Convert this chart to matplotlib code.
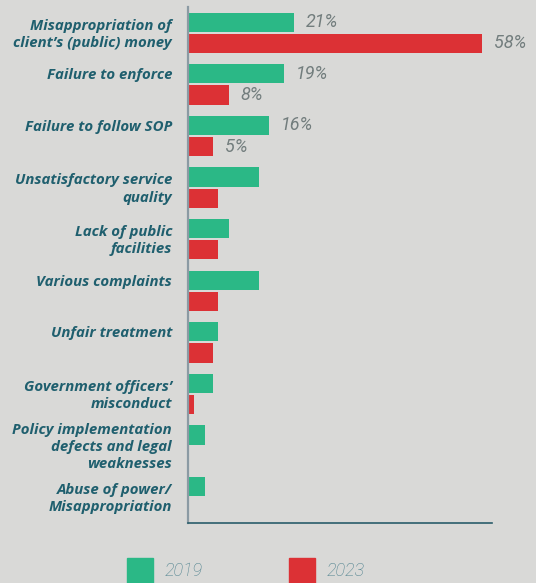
import numpy as np
import matplotlib.pyplot as plt
from matplotlib.patches import Rectangle

# categories, top to bottom
categories = [
    'Misappropriation of\nclient\u2019s (public) money',
    'Failure to enforce',
    'Failure to follow SOP',
    'Unsatisfactory service\nquality',
    'Lack of public\nfacilities',
    'Various complaints',
    'Unfair treatment',
    'Government officers\u2019\nmisconduct',
    'Policy implementation\ndefects and legal\nweaknesses',
    'Abuse of power/\nMisappropriation',
]
share_2019 = [21, 19, 16, 14, 8, 14, 6, 5, 3.3, 3.3]
share_2023 = [58, 8, 5, 6, 6, 6, 5, 1.2, 0, 0]
labels_2019 = ['21%', '19%', '16%', '', '', '', '', '', '', '']
labels_2023 = ['58%', '8%', '5%', '', '', '', '', '', '', '']
years = ['2019', '2023']

bg = '#d9d9d7'
green = '#2bb886'
red = '#dc3135'
teal = '#1f5f6e'
num_grey = '#727d7d'

fig = plt.figure(figsize=(5.36, 5.83), dpi=100, facecolor=bg)
ax = fig.add_axes([188 / 536, 1 - 523 / 583, 304 / 536, 516 / 583])
ax.set_facecolor(bg)

y = np.arange(len(categories))
h = 0.37
off = 0.205
ax.barh(y - off, share_2019, height=h, color=green)
ax.barh(y + off, share_2023, height=h, color=red)

ax.set_xlim(0, 60)
ax.set_ylim(len(categories) - 0.5, -0.5)
ax.set_xticks([])
ax.set_yticks([])
for s in ['top', 'right']:
    ax.spines[s].set_visible(False)
ax.spines['left'].set_color('#8b9aa3')
ax.spines['left'].set_linewidth(1.6)
ax.spines['bottom'].set_color('#2a5d6a')
ax.spines['bottom'].set_linewidth(1.2)

lab_font = dict(family='Open Sans', weight='bold', style='italic', size=10.8, color=teal)
num_font = dict(family='Roboto', weight='normal', style='italic', size=13, color=num_grey)

# category labels: one-liners sit next to the 2019 bar, others centred on the pair
for i, name in enumerate(categories):
    yy = i if '\n' in name else i - off
    ax.annotate(name, xy=(0, yy), xytext=(-11.5, -1), textcoords='offset points',
                ha='right', va='center', linespacing=1.3, **lab_font)

for vals, labs, dy in [(share_2019, labels_2019, -off), (share_2023, labels_2023, off)]:
    for i, (v, t) in enumerate(zip(vals, labs)):
        if t:
            ax.annotate(t, xy=(v, i + dy), xytext=(8.5, 0), textcoords='offset points',
                        ha='left', va='center', **num_font)

# legend squares along the bottom edge
for x0, col, yr in [(127, green, years[0]), (289, red, years[1])]:
    fig.patches.append(Rectangle((x0 / 536, 0), 26 / 536, 25 / 583,
                                 transform=fig.transFigure, color=col))
    fig.text((x0 + 38) / 536, 1 - 571 / 583, yr, ha='left', va='center',
             family='Roboto', weight='light', style='italic', size=13, color='#4a7f8c')

fig.savefig('out.png', dpi=100, facecolor=bg)
